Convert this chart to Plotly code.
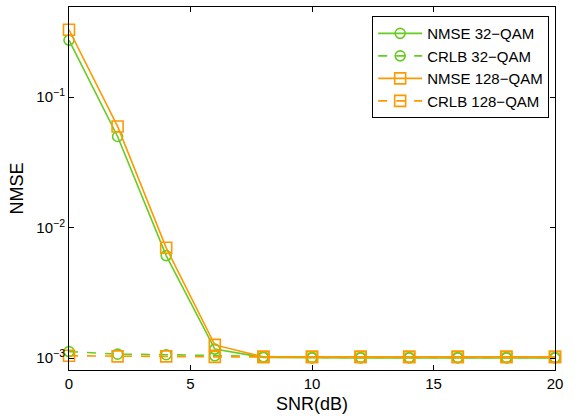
import math
import plotly.graph_objects as go

snr = [0, 2, 4, 6, 8, 10, 12, 14, 16, 18, 20]
nmse_32 = [0.274, 0.050, 0.0061, 0.00117, 0.00101, 0.00100, 0.00100, 0.00100, 0.00100, 0.00100, 0.00100]
crlb_32 = [0.00112, 0.00107, 0.00106, 0.00104, 0.00102, 0.00101, 0.00101, 0.00101, 0.00101, 0.00101, 0.00101]
nmse_128 = [0.329, 0.0597, 0.0070, 0.00126, 0.00102, 0.00102, 0.00102, 0.00102, 0.00102, 0.00102, 0.00102]
crlb_128 = [0.00104, 0.00103, 0.00103, 0.00102, 0.00102, 0.00102, 0.00102, 0.00102, 0.00102, 0.00102, 0.00102]

major_ticks = [1e-3, 1e-2, 1e-1]
major_text = ["10<sup>\u22123</sup>", "10<sup>\u22122</sup>", "10<sup>\u22121</sup>"]
minor_ticks = [m * 10 ** e for e in (-4, -3, -2, -1) for m in range(2, 10)]

green = "rgb(102,204,34)"
orange = "rgb(255,153,0)"
font = "Liberation Sans, Arial, sans-serif"
yrange = [-3.092, -0.308]

fig = go.Figure()
specs = [
    ("NMSE 32\u2212QAM", nmse_32, green, "solid", "circle-open", 10),
    ("CRLB 32\u2212QAM", crlb_32, green, "dash", "circle-open", 10),
    ("NMSE 128\u2212QAM", nmse_128, orange, "solid", "square-open", 11),
    ("CRLB 128\u2212QAM", crlb_128, orange, "dash", "square-open", 11),
]
for name, ys, col, dash, sym, sz in specs:
    fig.add_trace(go.Scatter(
        x=snr, y=ys, name=name, mode="lines+markers",
        line=dict(color=col, width=1.6, dash=dash),
        marker=dict(symbol=sym, size=sz, color=col, line=dict(width=1.6, color=col)),
        cliponaxis=False,
    ))

# minor log ticks on left and right edges (axis decoration)
tick_frac = 3.5 / 486
for v in minor_ticks:
    lv = math.log10(v)
    if yrange[0] < lv < yrange[1]:
        for x0, x1 in ((0, tick_frac), (1 - tick_frac, 1)):
            fig.add_shape(type="line", xref="x domain", yref="y",
                          x0=x0, x1=x1, y0=lv, y1=lv,
                          line=dict(color="black", width=1), layer="above")

fig.update_layout(
    width=575, height=417,
    margin=dict(l=69, r=20, t=6, b=46),
    paper_bgcolor="white", plot_bgcolor="white",
    font=dict(family=font, size=15, color="black"),
    showlegend=True,
    legend=dict(
        x=0.988, y=0.975, xanchor="right", yanchor="top",
        bgcolor="white", bordercolor="black", borderwidth=1,
        font=dict(size=15), itemwidth=44,
    ),
    xaxis=dict(
        range=[0, 20], tickvals=[0, 5, 10, 15, 20],
        ticks="inside", ticklen=5, tickcolor="black",
        showline=True, linecolor="black", linewidth=1, mirror="ticks",
        showgrid=False, zeroline=False,
        title=dict(text="SNR(dB)", standoff=6),
    ),
    yaxis=dict(
        type="log", range=yrange,
        tickvals=major_ticks, ticktext=major_text,
        ticks="inside", ticklen=5, tickcolor="black",
        showline=True, linecolor="black", linewidth=1, mirror="ticks",
        showgrid=False, zeroline=False,
        title=dict(text="NMSE", standoff=8),
    ),
)

fig.write_html("out.html")
